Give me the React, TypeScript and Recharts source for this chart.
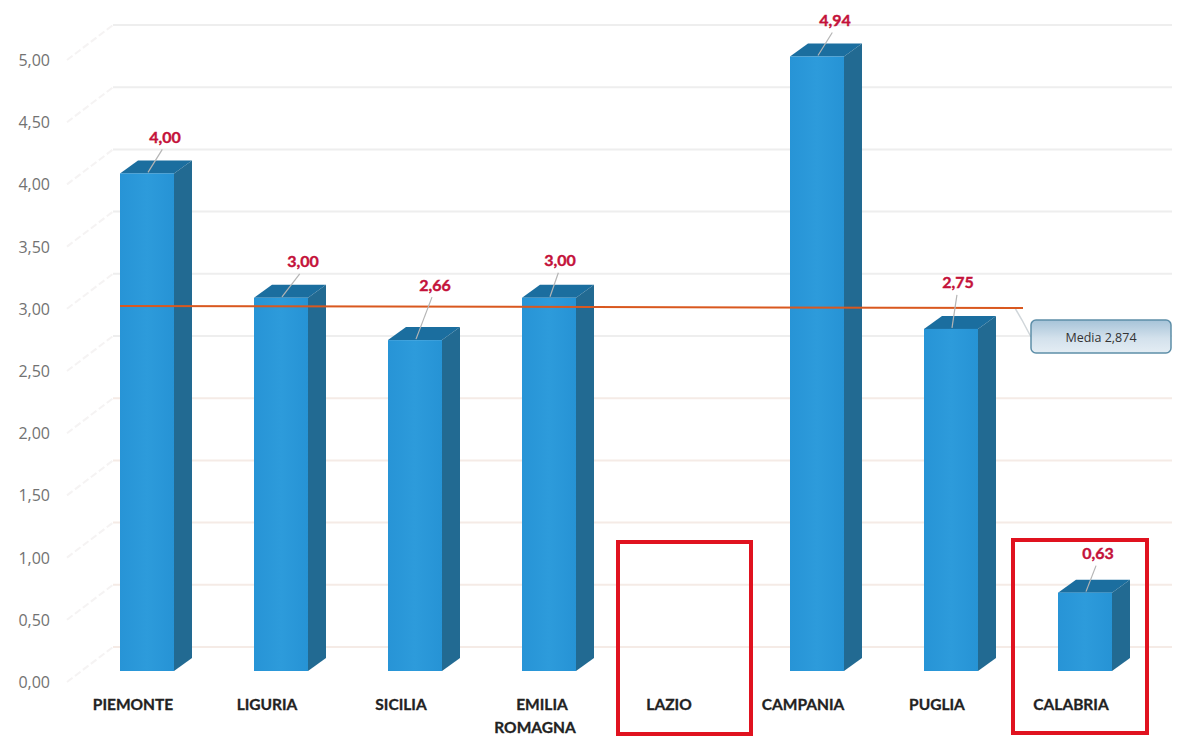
import { ComposedChart, Bar, XAxis, YAxis, CartesianGrid, LabelList, ReferenceLine } from "recharts";

const regions = ["PIEMONTE", "LIGURIA", "SICILIA", "EMILIA ROMAGNA", "LAZIO", "CAMPANIA", "PUGLIA", "CALABRIA"];
const values = [4.0, 3.0, 2.66, 3.0, null, 4.94, 2.75, 0.63];
const yTicks = [0, 0.5, 1, 1.5, 2, 2.5, 3, 3.5, 4, 4.5, 5];
const MEDIA = 2.874;
const MEDIA_LABEL = "Media 2,874";

// where each value label sits relative to the top centre of its bar
// LAZIO has no bar, so LabelList skips it and there are only seven entries
const labelOffsets = [
  [18, -37], [22, -37], [20, -56], [11, -38], [18, -37], [7, -47], [13, -40],
];

const data = regions.map((name, i) => ({ name, value: values[i] }));

const DEPTH_X = 18;
const DEPTH_Y = 13;
const LABEL_FONT = "Lato, 'Open Sans', sans-serif";

function fmt(n: number) {
  return n.toFixed(2).replace(".", ",");
}

function Bar3D({ x, y, width, height }: any) {
  if (!height || height <= 0) return null;
  const r = x + width;
  const b = y + height;
  return (
    <g>
      <polygon points={`${x},${y} ${x + DEPTH_X},${y - DEPTH_Y} ${r + DEPTH_X},${y - DEPTH_Y} ${r},${y}`} fill="#1b6e9f" />
      <polygon points={`${r},${y} ${r + DEPTH_X},${y - DEPTH_Y} ${r + DEPTH_X},${b - DEPTH_Y} ${r},${b}`} fill="#226a92" />
      <rect x={x} y={y} width={width} height={height} fill="url(#barFront)" />
    </g>
  );
}

function ValueLabel({ x, y, width, value, index }: any) {
  if (value == null) return null;
  const cx = x + width / 2;
  const [dx, dy] = labelOffsets[index];
  return (
    <g>
      <line x1={cx + 1} y1={y - 1} x2={cx + dx * 0.85} y2={y + dy + 13} stroke="#b5b5b5" strokeWidth={1.2} />
      <text
        x={cx + dx}
        y={y + dy}
        textAnchor="middle"
        dominantBaseline="central"
        fontFamily={LABEL_FONT}
        fontWeight={700}
        fontSize={16}
        fill="#c4123a"
        stroke="#c4123a"
        strokeWidth={0.4}
      >
        {fmt(value)}
      </text>
    </g>
  );
}

function CategoryTick({ x, y, payload }: any) {
  const lines = String(payload.value).split(" ");
  return (
    <g>
      {lines.map((word, i) => (
        <text
          key={word}
          x={x - 14 + (lines.length > 1 && i === 0 ? 7 : 0)}
          y={y + 31 + i * 23}
          textAnchor="middle"
          fontFamily={LABEL_FONT}
          fontWeight={700}
          fontSize={15.5}
          fill="#222"
          stroke="#222"
          strokeWidth={0.3}
        >
          {word}
        </text>
      ))}
    </g>
  );
}

function ValueTick({ y, payload }: any) {
  return (
    <text x={50} y={y + 11} textAnchor="end" dominantBaseline="central" fontFamily="'Open Sans', sans-serif" fontSize={16} fill="#727272">
      {fmt(payload.value)}
    </text>
  );
}

function GridLine({ x2, y1 }: any) {
  const c = y1 > 420 ? "#f5ebe6" : "#eeeeee";
  return (
    <g key={y1}>
      <line x1={67} y1={y1 + 11} x2={113} y2={y1 - 24} stroke="#f5f3f3" strokeWidth={2} strokeDasharray="7 3" />
      <line x1={113} y1={y1 - 24} x2={x2 + 20} y2={y1 - 24} stroke={c} strokeWidth={2} />
    </g>
  );
}

function MediaLine({ x1, x2, y1, y2 }: any) {
  return <line x1={x1 + 40} y1={y1 - 7.5} x2={x2 - 129} y2={y2 - 5.5} stroke="#d9581f" strokeWidth={2} />;
}

export default function App() {
  return (
    <div style={{ position: "absolute", left: 0, top: 0, width: 1178, height: 740, background: "#fff" }}>
      <ComposedChart width={1178} height={740} data={data} margin={{ top: 49, right: 26, bottom: 0, left: 0 }}>
        <defs>
          <linearGradient id="barFront" x1="0" y1="0" x2="1" y2="0">
            <stop offset="0" stopColor="#2794d6" />
            <stop offset="0.5" stopColor="#2d9bdb" />
            <stop offset="1" stopColor="#2693d5" />
          </linearGradient>
          <linearGradient id="mediaBox" x1="0" y1="0" x2="0" y2="1">
            <stop offset="0" stopColor="#a6c3d8" />
            <stop offset="0.55" stopColor="#d3e1ec" />
            <stop offset="1" stopColor="#e4edf4" />
          </linearGradient>
        </defs>
        <CartesianGrid vertical={false} horizontal={GridLine as any} />
        <XAxis dataKey="name" height={69} axisLine={false} tickLine={false} tick={CategoryTick as any} interval={0} />
        <YAxis width={80} domain={[0, 5]} ticks={yTicks} axisLine={false} tickLine={false} tick={ValueTick as any} />
        <Bar dataKey="value" barSize={54} shape={Bar3D as any} isAnimationActive={false}>
          <LabelList dataKey="value" content={ValueLabel as any} />
        </Bar>
        <ReferenceLine y={MEDIA} shape={MediaLine as any} />
        <polyline points="1015,308 1022,320 1031,337" fill="none" stroke="#d0d6da" strokeWidth={1.5} />
        <rect x={1031} y={320} width={140} height={33} rx={5} fill="url(#mediaBox)" stroke="#5d8ea8" strokeWidth={1.5} />
        <text x={1101} y={337} textAnchor="middle" dominantBaseline="central" fontFamily="'Open Sans', sans-serif" fontSize={12.5} fill="#333">
          {MEDIA_LABEL}
        </text>
        <rect x={618} y={542} width={133} height={192} fill="none" stroke="#e0121f" strokeWidth={4} />
        <rect x={1013} y={540} width={134} height={193} fill="none" stroke="#e0121f" strokeWidth={4} />
      </ComposedChart>
    </div>
  );
}
